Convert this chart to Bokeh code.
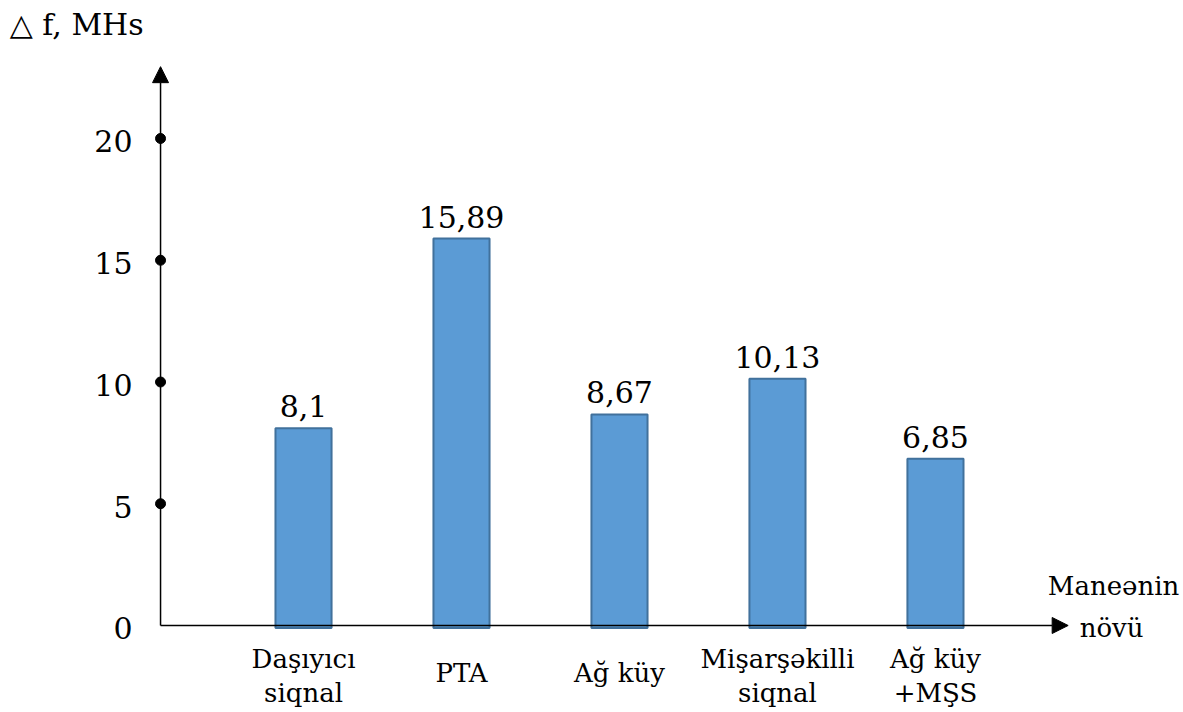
from bokeh.plotting import figure
from bokeh.models import Range1d, Arrow, NormalHead, ColumnDataSource
from bokeh.core.properties import value
from bokeh.embed import file_html
from bokeh.resources import INLINE

# Interference types (two-line category labels)
cat_line1 = ["Daşıyıcı", "PTA", "Ağ küy", "Mişarşəkilli", "Ağ küy"]
cat_line2 = ["siqnal", "", "", "siqnal", "+MŞS"]
# Frequency deviation, MHs
values = [8.1, 15.89, 8.67, 10.13, 6.85]
y_ticks = [0, 5, 10, 15, 20]
y_tick_labels = ["0", "5", "10", "15", "20"]

FONT = value("DejaVu Serif")
xs = list(range(len(values)))
axis_x = -0.905

p = figure(width=1183, height=712, output_backend="svg", toolbar_location=None,
           x_range=Range1d(-1.918, 5.57), y_range=Range1d(-3.573, 25.667),
           x_axis_type=None, y_axis_type=None, min_border=0)
p.outline_line_color = None
p.xgrid.visible = False
p.ygrid.visible = False

# single-line category names sit between the two label rows
src = ColumnDataSource(dict(
    x=xs, top=values,
    lbl=[f"{v:g}".replace(".", ",") for v in values],
    l1=cat_line1, l2=cat_line2,
    l1_off=[34 if s else 48 for s in cat_line2],
))

# bars
p.vbar(x="x", top="top", bottom=-0.1, width=0.355, source=src,
       fill_color="#5B9BD5", line_color="#41719C", line_width=2)

# value labels above bars
p.text(x="x", y="top", text="lbl", source=src, text_font=FONT,
       text_font_size="30px", text_align="center", text_baseline="bottom",
       y_offset=-11, text_color="black")

# axes with arrowheads
p.add_layout(Arrow(x_start=axis_x, y_start=0, x_end=axis_x, y_end=22.95,
                   line_color="black", line_width=1.5,
                   end=NormalHead(size=16, fill_color="black", line_color="black")))
p.add_layout(Arrow(x_start=axis_x, y_start=0, x_end=4.84, y_end=0,
                   line_color="black", line_width=1.5,
                   end=NormalHead(size=16, fill_color="black", line_color="black")))

# tick dots and labels on the vertical axis
p.scatter(x=[axis_x] * 4, y=y_ticks[1:], size=10, marker="circle",
          fill_color="black", line_color="black")
p.text(x=[axis_x] * len(y_ticks), y=y_ticks, text=y_tick_labels, text_font=FONT,
       text_font_size="30px", text_align="right", text_baseline="middle",
       x_offset=-28, y_offset=3, text_color="black")

# category labels
p.text(x="x", y=0, text="l1", source=src, text_font=FONT, text_font_size="26px",
       text_align="center", text_baseline="middle", y_offset="l1_off", text_color="black")
p.text(x="x", y=0, text="l2", source=src, text_font=FONT, text_font_size="26px",
       text_align="center", text_baseline="middle", y_offset=68, text_color="black")

# axis titles
p.text(x=[-1.86], y=[24.7], text=["△ f, MHs"], text_font=FONT,
       text_font_size="30px", text_align="left", text_baseline="middle",
       text_color="black")
p.text(x=[5.127, 5.115], y=[1.64, -0.1], text=["Maneənin", "növü"], text_font=FONT,
       text_font_size="26px", text_align="center", text_baseline="middle",
       text_color="black")

open("out.html", "w").write(file_html(p, INLINE))
